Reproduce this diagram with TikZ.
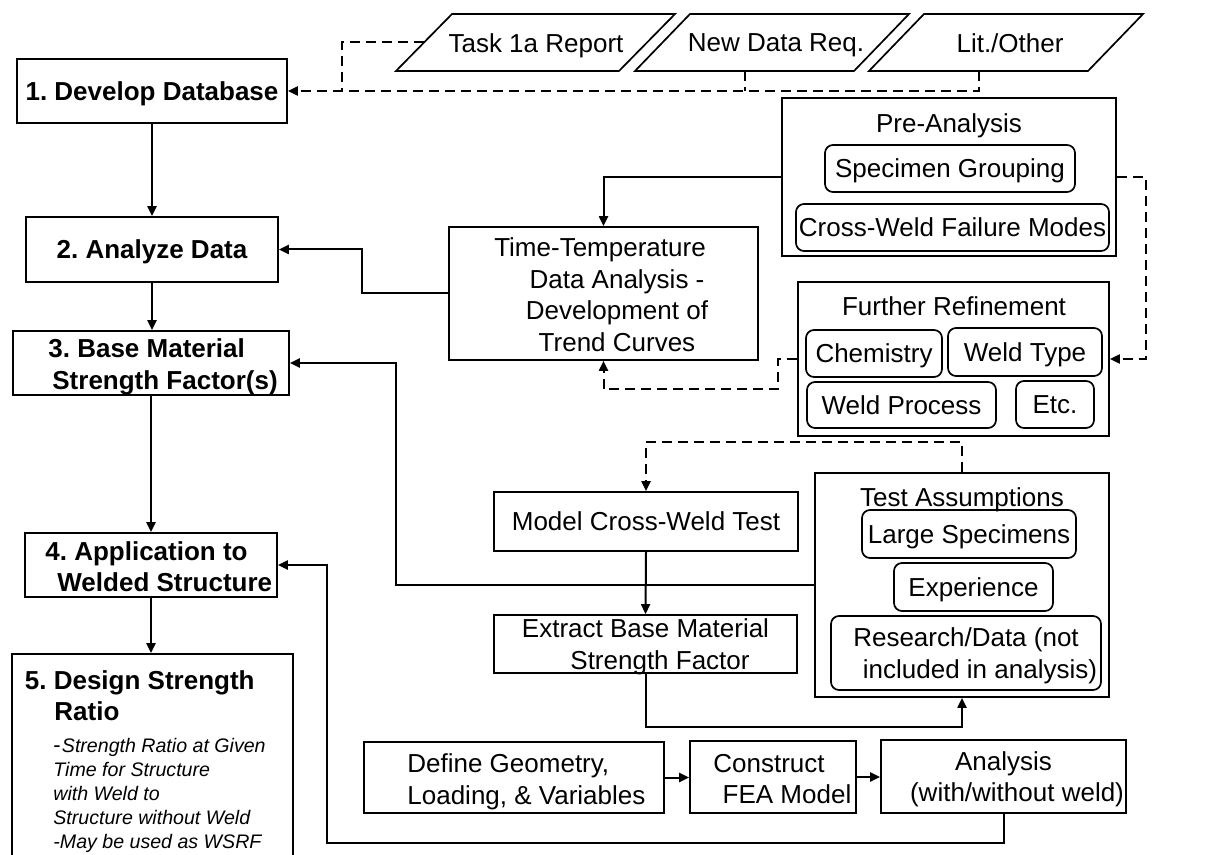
\documentclass[tikz,border=0pt]{standalone}
\usepackage{fontspec}
\setmainfont{Liberation Sans}
\usetikzlibrary{arrows.meta}
\frenchspacing
\begin{document}
\begin{tikzpicture}[x=0.5pt,y=-0.5pt,
  box/.style={draw, line width=0.85pt, inner sep=0pt},
  rbox/.style={box, rounded corners=4pt},
  sz/.style 2 args={minimum width=#1*0.5pt, minimum height=#2*0.5pt},
  txt/.style={font=\frenchspacing\fontsize{13}{15.8}\selectfont, inner sep=0pt, align=center, text depth=0pt},
  btxt/.style={font=\frenchspacing\fontsize{13}{15.6}\selectfont\bfseries, inner sep=0pt, text depth=0pt},
  itxt/.style={font=\fontsize{9.8}{12.05}\selectfont\itshape, inner sep=0pt, align=left},
  conn/.style={line width=1pt, -{Triangle[length=5pt,width=4.5pt]}},
  dconn/.style={conn, dash pattern=on 5pt off 3pt},
  dline/.style={line width=1pt, dash pattern=on 5pt off 3pt},
  para/.style={draw, line width=0.85pt},
]
\useasboundingbox (0,0) rectangle (1230,855);
\fill[white] (0,0) rectangle (1230,855);

% input parallelograms
\draw[para] (396,71) -- (452,14) -- (675,14) -- (619,71) -- cycle;
\node[txt] (t1a) at (536,43) {Task 1a Report};
\draw[para] (635,71) -- (690,14) -- (909,14) -- (854,71) -- cycle;
\node[txt] (nd) at (776,43) {New Data Req.};
\draw[para] (869,71) -- (924,14) -- (1143,14) -- (1088,71) -- cycle;
\node[txt] (lit) at (1010,43) {Lit./Other};
\coordinate (t1aL) at (424,42.5);
\coordinate (ndB) at (744.5,71);
\coordinate (litB) at (978.5,71);
\coordinate (jA) at (342,91);

% main column
\node[box, sz={270}{64}, btxt] (dev) at (152,91) {1. Develop Database};
\node[box, sz={252}{65}, btxt] (ana) at (152,249.5) {2. Analyze Data};
\node[box, sz={276}{64}] (base) at (151,363) {};
\node[btxt, align=left, anchor=west] (baseT) at (48,364) {3. Base Material\\\hspace*{2pt}Strength Factor(s)};
\node[box, sz={252}{64}] (app) at (151,565) {};
\node[btxt, align=left, anchor=west] (appT) at (45,566.5) {4. Application to\\\hspace*{6pt}Welded Structure};
\node[box, sz={281}{216}] (des) at (152.5,762) {};
\node[btxt, align=left, anchor=west] (desT) at (24.5,695.5) {5. Design Strength\\\hspace*{14.75pt}Ratio};
\node[itxt, anchor=west] (desI) at (53,795.5) {{\upshape\fontsize{11}{12}\selectfont -}\hspace{0.6pt}Strength Ratio at Given\\Time for Structure\\with Weld to\\Structure without Weld\\-May be used as WSRF};

% pre-analysis
\node[box, sz={334}{158}] (pre) at (949,177) {};
\node[txt] (preT) at (949,123) {Pre-Analysis};
\node[rbox, sz={250}{47}, txt] (spec) at (950,168.5) {Specimen Grouping};
\node[rbox, sz={313}{47}, txt] (cwfm) at (952.5,227.5) {Cross-Weld Failure Modes};

% time-temperature
\node[box, sz={309}{133}] (tt) at (603.5,293.5) {};
\node[txt] (ttT) at (617,294.5) {Time-Temperature\hspace*{17pt}\\Data Analysis -\\Development of\\Trend Curves};

% further refinement
\node[box, sz={311}{154}] (fr) at (953.5,359) {};
\node[txt] (frT) at (954,306) {Further Refinement};
\node[rbox, sz={136}{47}, txt] (chem) at (874,353.5) {Chemistry};
\node[rbox, sz={154}{48}, txt] (wtype) at (1025,352) {Weld Type};
\node[rbox, sz={189}{46}, txt] (wproc) at (901.5,405) {Weld Process};
\node[rbox, sz={78}{47}, txt] (etc) at (1055,404.5) {Etc.};

% test assumptions
\node[box, sz={294}{224}] (ta) at (962,585) {};
\node[txt] (taT) at (962,497) {Test Assumptions};
\node[rbox, sz={214}{48}, txt] (large) at (969,534) {Large Specimens};
\node[rbox, sz={159}{48}, txt] (exp) at (973.5,587) {Experience};
\node[rbox, sz={270}{74}, txt] (res) at (966,653) {Research/Data (not\\\hspace*{14pt}included in analysis)};

% cross-weld
\node[box, sz={304}{59}, txt] (mcw) at (646,521.5) {Model Cross-Weld Test};
\node[box, sz={303}{58}, txt] (ext) at (645.5,644) {Extract Base Material\\\hspace*{14.5pt}Strength Factor};

% FEA row
\node[box, sz={300}{71}] (def) at (514,777.5) {};
\node[txt, align=left, anchor=west] (defT) at (407,779) {Define Geometry,\\Loading, \& Variables};
\node[box, sz={166}{72}] (con) at (773,777) {};
\node[txt] (conT) at (773,779) {Construct\hspace*{4pt}\\\hspace*{14pt}FEA Model};
\node[box, sz={245}{73}, txt] (anl) at (1003.5,776.5) {Analysis\\\hspace*{13.5pt}(with/without weld)};
\coordinate (jB) at (327,565);

% connectors
\draw[dconn] (litB) |- (dev.east);
\draw[dline] (ndB) -- (ndB |- dev.east);
\draw[dline] (t1aL) -| (jA);
\draw[conn] (dev.south) -- (ana.north);
\draw[conn] (ana.south) -- (ana.south |- base.north);
\draw[conn] (base.south) -- (app.north);
\draw[conn] (app.south) -- (app.south |- des.north);
\draw[conn] (pre.west) -| (tt.north);
\draw[conn] (tt.west) -- ++(-86,0) |- (ana.east);
\draw[dconn] (pre.east) -- ++(29,0) |- (fr.east);
\draw[dconn] (fr.west) -- ++(-19,0) -- ++(0,30) -| (tt.south);
\draw[dconn] (ta.north) -- ++(0,-30) -| (mcw.north);
\draw[conn] (mcw.south) -- (ext.north);
\draw[conn] (ta.west) -- ++(-418,0) |- (base.east);
\draw[conn] (ext.south) -- ++(0,53) -| (ta.south);
\draw[conn] (def.east) -- (def.east -| con.west);
\draw[conn] (con.east) -- (con.east -| anl.west);
\draw[conn] (anl.south) -- ++(0,29) -| (jB) -- (app.east);
\end{tikzpicture}
\end{document}
